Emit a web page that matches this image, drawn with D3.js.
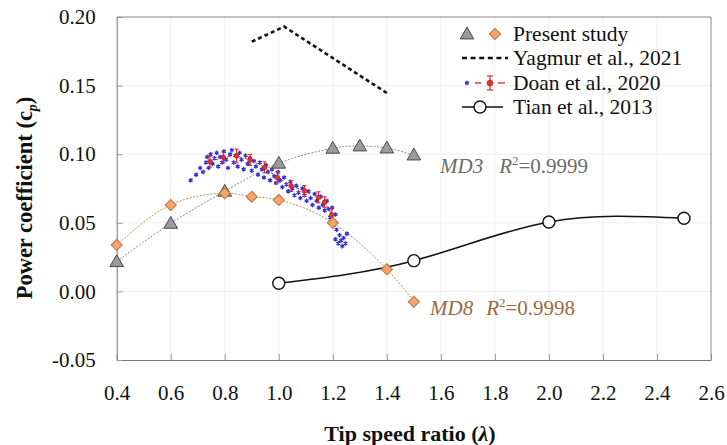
<!DOCTYPE html>
<html>
<head>
<meta charset="utf-8">
<script src="https://cdn.jsdelivr.net/npm/d3@7"></script>
<style>
  body { margin: 0; background: #fff; }
</style>
</head>
<body>
<svg id="chart" width="727" height="445"></svg>
<script>
const FONT = "'Liberation Serif'";

// Present study (tip speed ratio, power coefficient)
const md3 = [[0.4, 0.0217], [0.6, 0.0496], [0.8, 0.073], [1.0, 0.0934], [1.2, 0.1043], [1.3, 0.106], [1.4, 0.1045], [1.5, 0.0994]];
const md8 = [[0.4, 0.0338], [0.6, 0.063], [0.8, 0.0715], [0.9, 0.069], [1.0, 0.0666], [1.2, 0.050], [1.4, 0.0161], [1.5, -0.0075]];

// Yagmur et al., 2021
const yagmur = [[0.9, 0.182], [1.02, 0.193], [1.4, 0.1446]];

// Tian et al., 2013
const tian = [[1.0, 0.0059], [1.5, 0.0224], [2.0, 0.0506], [2.5, 0.0533]];

// Doan et al., 2020 - averaged points with error bars
const doanMean = [[0.745, 0.0946], [0.795, 0.0977], [0.844, 0.0987], [0.894, 0.0958], [0.947, 0.0904],
  [0.995, 0.0831], [1.046, 0.0768], [1.095, 0.0732], [1.147, 0.0686], [1.17, 0.065], [1.196, 0.0557]];
const doanErr = [0.004, 0.004, 0.005, 0.004, 0.004, 0.004, 0.004, 0.004, 0.004, 0.004, 0.005];

// Doan et al., 2020 - raw samples
const doanRaw = [[0.674, 0.081], [0.694, 0.085], [0.709, 0.090], [0.72, 0.087], [0.73, 0.094], [0.735, 0.098],
  [0.74, 0.090], [0.748, 0.100], [0.755, 0.093], [0.762, 0.097], [0.77, 0.101], [0.776, 0.091],
  [0.783, 0.098], [0.79, 0.094], [0.797, 0.102], [0.805, 0.096], [0.812, 0.090], [0.82, 0.100],
  [0.826, 0.103], [0.833, 0.094], [0.84, 0.099], [0.848, 0.091], [0.855, 0.101], [0.862, 0.096],
  [0.87, 0.089], [0.877, 0.099], [0.885, 0.093], [0.893, 0.097], [0.90, 0.088], [0.908, 0.095],
  [0.915, 0.091], [0.923, 0.085], [0.93, 0.094], [0.938, 0.089], [0.945, 0.083], [0.953, 0.092],
  [0.96, 0.087], [0.968, 0.081], [0.975, 0.089], [0.983, 0.084], [0.99, 0.079], [0.998, 0.087],
  [1.005, 0.081], [1.013, 0.076], [1.02, 0.083], [1.028, 0.078], [1.035, 0.073], [1.043, 0.080],
  [1.05, 0.075], [1.058, 0.070], [1.065, 0.077], [1.073, 0.072], [1.08, 0.068], [1.088, 0.075],
  [1.095, 0.070], [1.103, 0.066], [1.11, 0.073], [1.118, 0.068], [1.125, 0.063], [1.133, 0.071],
  [1.14, 0.066], [1.148, 0.061], [1.155, 0.069], [1.163, 0.063], [1.17, 0.059], [1.178, 0.066],
  [1.185, 0.060], [1.19, 0.054], [1.198, 0.061], [1.203, 0.048], [1.21, 0.056], [1.214, 0.045],
  [1.21, 0.038], [1.22, 0.035], [1.225, 0.041], [1.23, 0.037], [1.235, 0.033], [1.24, 0.039],
  [1.247, 0.035], [1.252, 0.042]];

const xTicks = [0.4, 0.6, 0.8, 1.0, 1.2, 1.4, 1.6, 1.8, 2.0, 2.2, 2.4, 2.6];
const yTicks = [-0.05, 0.00, 0.05, 0.10, 0.15, 0.20];

const svg = d3.select("#chart").style("font-family", FONT);
const plot = { left: 116.7, right: 711, top: 17, bottom: 360 };

const x = d3.scaleLinear().domain([0.4, 2.6]).range([plot.left, plot.right]);
const y = d3.scaleLinear().domain([-0.05, 0.20]).range([plot.bottom, plot.top]);

// faint grid
svg.append("g")
    .selectAll("line")
    .data(xTicks.slice(1, -1))
    .join("line")
    .attr("x1", d => x(d)).attr("x2", d => x(d))
    .attr("y1", plot.top).attr("y2", plot.bottom)
    .attr("stroke", "#efefef");
svg.append("g")
    .selectAll("line")
    .data(yTicks.slice(1, -1))
    .join("line")
    .attr("x1", plot.left).attr("x2", plot.right)
    .attr("y1", d => y(d)).attr("y2", d => y(d))
    .attr("stroke", "#efefef");

// axes (inward ticks)
const xAxis = svg.append("g")
    .attr("transform", `translate(0,${plot.bottom})`)
    .call(d3.axisBottom(x).tickValues(xTicks).tickSizeInner(-6).tickSizeOuter(0).tickPadding(25)
        .tickFormat(d => d.toFixed(1)));
const yAxis = svg.append("g")
    .attr("transform", `translate(${plot.left},0)`)
    .call(d3.axisLeft(y).tickValues(yTicks).tickSizeInner(-6).tickSizeOuter(0).tickPadding(21)
        .tickFormat(d => d.toFixed(2)));
[xAxis, yAxis].forEach(a => {
    a.attr("font-size", 21);
    a.select(".domain").attr("stroke", "#777");
    a.selectAll(".tick line").attr("stroke", "#999");
    a.selectAll(".tick text").attr("fill", "#111").style("font-family", FONT);
});

// frame top/right
svg.append("path")
    .attr("d", `M${plot.left},${plot.top}H${plot.right}V${plot.bottom}`)
    .attr("fill", "none").attr("stroke", "#888");

// axis titles
const yTitle = svg.append("text")
    .attr("transform", "translate(32,198) rotate(-90)")
    .attr("text-anchor", "middle")
    .style("font-family", FONT)
    .attr("font-size", 22.5).attr("font-weight", "bold").attr("fill", "#111");
yTitle.append("tspan").text("Power coefficient (c");
yTitle.append("tspan").attr("font-style", "italic").attr("font-size", 14).attr("dy", 5).text("p");
yTitle.append("tspan").attr("dy", -5).text(")");

const xTitle = svg.append("text")
    .attr("x", 410).attr("y", 441)
    .attr("text-anchor", "middle")
    .style("font-family", FONT)
    .attr("font-size", 22).attr("font-weight", "bold").attr("fill", "#111");
xTitle.append("tspan").text("Tip speed ratio (");
xTitle.append("tspan").attr("font-style", "italic").text("λ");
xTitle.append("tspan").text(")");

const line = d3.line().x(d => x(d[0])).y(d => y(d[1]));
const smooth = d3.line().x(d => x(d[0])).y(d => y(d[1])).curve(d3.curveNatural);

// trend curves for present study
svg.append("path").datum(md3).attr("d", smooth)
    .attr("fill", "none").attr("stroke", "#8a8a8a").attr("stroke-width", 1).attr("stroke-dasharray", "2,1.5");
svg.append("path").datum(md8).attr("d", smooth)
    .attr("fill", "none").attr("stroke", "#c98a50").attr("stroke-width", 1).attr("stroke-dasharray", "2,1.5");

// Tian
svg.append("path").datum(tian).attr("d", smooth)
    .attr("fill", "none").attr("stroke", "#111").attr("stroke-width", 1.6);

// Yagmur
svg.append("path").datum(yagmur).attr("d", line)
    .attr("fill", "none").attr("stroke", "#111").attr("stroke-width", 2.6).attr("stroke-dasharray", "4,3");

// Doan raw
const star = d3.symbol(d3.symbolAsterisk, 14);
svg.append("g")
    .selectAll("path")
    .data(doanRaw)
    .join("path")
    .attr("d", star)
    .attr("transform", d => `translate(${x(d[0])},${y(d[1])})`)
    .attr("fill", "none").attr("stroke", "#3434d0").attr("stroke-width", 1.3);

// Doan mean with error bars
svg.append("path").datum(doanMean).attr("d", line)
    .attr("fill", "none").attr("stroke", "#e03030").attr("stroke-width", 1).attr("stroke-dasharray", "3,3");
const eb = svg.append("g").attr("stroke", "#e02828").attr("stroke-width", 1.1);
eb.selectAll("line.bar").data(doanMean).join("line")
    .attr("x1", d => x(d[0])).attr("x2", d => x(d[0]))
    .attr("y1", (d, i) => y(d[1] - doanErr[i])).attr("y2", (d, i) => y(d[1] + doanErr[i]));
eb.selectAll("line.cap1").data(doanMean).join("line")
    .attr("x1", d => x(d[0]) - 2).attr("x2", d => x(d[0]) + 2)
    .attr("y1", (d, i) => y(d[1] + doanErr[i])).attr("y2", (d, i) => y(d[1] + doanErr[i]));
eb.selectAll("line.cap2").data(doanMean).join("line")
    .attr("x1", d => x(d[0]) - 2).attr("x2", d => x(d[0]) + 2)
    .attr("y1", (d, i) => y(d[1] - doanErr[i])).attr("y2", (d, i) => y(d[1] - doanErr[i]));
svg.append("g").selectAll("circle").data(doanMean).join("circle")
    .attr("cx", d => x(d[0])).attr("cy", d => y(d[1])).attr("r", 2.4)
    .attr("fill", "#e83030").attr("stroke", "#b01818").attr("stroke-width", 0.6);

// markers
const tri = d3.symbol(d3.symbolTriangle, 80);
const dia = d3.symbol(d3.symbolSquare, 62);
function drawTri(g, px, py) {
    g.append("path").attr("d", tri).attr("transform", `translate(${px},${py + 1})`)
        .attr("fill", "#9b9b9b").attr("stroke", "#4a4a4a").attr("stroke-width", 1);
}
function drawDia(g, px, py) {
    g.append("path").attr("d", dia).attr("transform", `translate(${px},${py}) rotate(45)`)
        .attr("fill", "#f4a46c").attr("stroke", "#b8743e").attr("stroke-width", 1);
}
function drawCircle(g, px, py) {
    g.append("circle").attr("cx", px).attr("cy", py).attr("r", 6)
        .attr("fill", "#fff").attr("stroke", "#111").attr("stroke-width", 1.4);
}
const mk = svg.append("g");
md3.forEach(d => drawTri(mk, x(d[0]), y(d[1])));
md8.forEach(d => drawDia(mk, x(d[0]), y(d[1])));
tian.forEach(d => drawCircle(mk, x(d[0]), y(d[1])));

// annotations
function rLabel(px, py, name, r2, color, gap) {
    const t = svg.append("text").attr("x", px).attr("y", py)
        .style("font-family", FONT)
        .attr("font-size", 21).attr("fill", color);
    t.append("tspan").attr("font-style", "italic").text(name);
    t.append("tspan").attr("font-style", "italic").attr("dx", gap).text("R");
    t.append("tspan").attr("font-size", 13).attr("dy", -8).text("2");
    t.append("tspan").attr("dy", 8).text("=" + r2);
}
rLabel(440, 173, "MD3", "0.9999", "#6b6b6b", 16);
rLabel(430, 315, "MD8", "0.9998", "#9b6a40", 13);

// legend
const lg = svg.append("g");
const lx = 513;
const rows = [34, 58, 83, 107];
const names = ["Present study", "Yagmur et al., 2021", "Doan et al., 2020", "Tian et al., 2013"];
lg.selectAll("text").data(names).join("text")
    .attr("x", lx).attr("y", (d, i) => rows[i] + 7)
    .style("font-family", FONT)
    .attr("font-size", 21.5).attr("fill", "#111").text(d => d);
drawTri(lg, 467, rows[0]);
drawDia(lg, 495, rows[0]);
lg.append("line").attr("x1", 462).attr("x2", 508).attr("y1", rows[1]).attr("y2", rows[1])
    .attr("stroke", "#111").attr("stroke-width", 2.6).attr("stroke-dasharray", "5,3.6");
lg.append("path").attr("d", star).attr("transform", `translate(467,${rows[2]})`)
    .attr("fill", "none").attr("stroke", "#3434d0").attr("stroke-width", 1.3);
lg.append("line").attr("x1", 475).attr("x2", 481).attr("y1", rows[2]).attr("y2", rows[2])
    .attr("stroke", "#e03030").attr("stroke-width", 1.4);
lg.append("line").attr("x1", 498).attr("x2", 505).attr("y1", rows[2]).attr("y2", rows[2])
    .attr("stroke", "#e03030").attr("stroke-width", 1.4);
lg.append("line").attr("x1", 490).attr("x2", 490).attr("y1", rows[2] - 7).attr("y2", rows[2] + 7)
    .attr("stroke", "#e02828").attr("stroke-width", 1.2);
lg.append("line").attr("x1", 487).attr("x2", 493).attr("y1", rows[2] - 7).attr("y2", rows[2] - 7)
    .attr("stroke", "#e02828").attr("stroke-width", 1.2);
lg.append("line").attr("x1", 487).attr("x2", 493).attr("y1", rows[2] + 7).attr("y2", rows[2] + 7)
    .attr("stroke", "#e02828").attr("stroke-width", 1.2);
lg.append("circle").attr("cx", 490).attr("cy", rows[2]).attr("r", 3)
    .attr("fill", "#e83030").attr("stroke", "#b01818").attr("stroke-width", 0.6);
lg.append("line").attr("x1", 462).attr("x2", 503).attr("y1", rows[3]).attr("y2", rows[3])
    .attr("stroke", "#111").attr("stroke-width", 1.6);
drawCircle(lg, 480, rows[3]);
</script>
</body>
</html>
